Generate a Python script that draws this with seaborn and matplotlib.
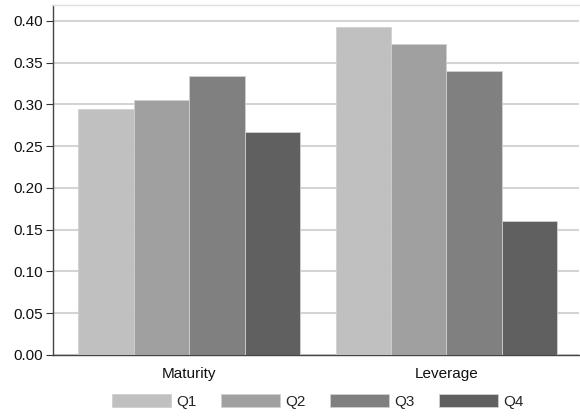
import matplotlib
matplotlib.use("Agg")
import matplotlib.pyplot as plt
import seaborn as sns
import pandas as pd

# values
variables = ["Maturity", "Leverage"]
quartiles = ["Q1", "Q2", "Q3", "Q4"]
maturity = [0.295, 0.305, 0.334, 0.267]
leverage = [0.393, 0.372, 0.340, 0.161]
colors = ["#c0c0c0", "#a0a0a0", "#808080", "#606060"]
yticks = [0.00, 0.05, 0.10, 0.15, 0.20, 0.25, 0.30, 0.35, 0.40]

df = pd.DataFrame({
    "variable": ["Maturity"] * 4 + ["Leverage"] * 4,
    "quartile": quartiles * 2,
    "value": maturity + leverage,
})

sns.set_style("white")
plt.rcParams["font.family"] = ["Liberation Sans", "DejaVu Sans"]

fig = plt.figure(figsize=(5.8, 4.17), dpi=100)
ax = fig.add_axes([0.0914, 0.1487, 0.9076, 0.8393])

sns.barplot(data=df, x="variable", y="value", hue="quartile", order=variables,
            hue_order=quartiles, palette=colors, width=0.862, gap=0,
            edgecolor="#d0d0d0", linewidth=0.6, saturation=1, ax=ax,
            legend=True, zorder=3)

ax.set_ylim(0, 0.419)
ax.set_xlim(-0.53, 1.517)
ax.set_yticks(yticks)
ax.set_yticklabels([f"{t:.2f}" for t in yticks])
ax.yaxis.grid(True, color="#d4d4d4", linewidth=1.5, zorder=0)
ax.set_axisbelow(True)
ax.set_xlabel("")
ax.set_ylabel("")

ax.tick_params(axis="y", which="both", left=True, length=5, width=0.8,
               color="#333333", labelsize=11, pad=2, labelcolor="#111111")
ax.tick_params(axis="x", bottom=False, labelsize=11, pad=5, labelcolor="#111111")

for s in ["left", "bottom"]:
    ax.spines[s].set_color("#444444")
    ax.spines[s].set_linewidth(1.0)
ax.spines["top"].set_color("#e0e0e0")
ax.spines["top"].set_linewidth(1.0)
ax.spines["right"].set_visible(False)

handles, labels = ax.get_legend_handles_labels()
ax.get_legend().remove()
fig.legend(handles, labels, loc="center", bbox_to_anchor=(0.548, 0.038), ncol=4,
           frameon=False, fontsize=11, handlelength=3.85, handleheight=1.0,
           handletextpad=0.35, columnspacing=1.6)

fig.savefig("out.png", dpi=100)
